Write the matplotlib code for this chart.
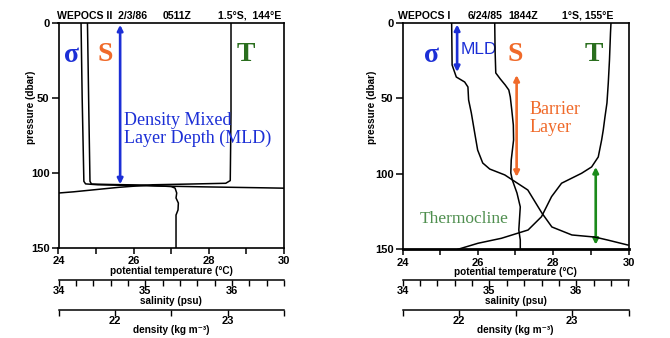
import matplotlib
matplotlib.use('Agg')
import matplotlib.pyplot as plt
from matplotlib.ticker import MultipleLocator, FixedLocator

plt.rcParams['font.family'] = ['Liberation Sans', 'DejaVu Sans']

# ---------------- data ----------------
# Left panel: WEPOCS II 2/3/86 0511Z, 1.5S 144E
left_T_temp = [28.59, 28.59, 28.57, 28.45, 27.5, 26.5, 25.6, 25.0, 24.4, 23.9]
left_T_pres = [0, 60, 105, 106.8, 107.3, 107.8, 109.5, 111.0, 112.5, 113.5]
left_S_sal = [34.334, 34.35, 34.363, 34.38, 34.6, 35.0, 35.3, 35.344, 35.363,
              35.355, 35.382, 35.378, 35.355, 35.355]
left_S_pres = [0, 60, 105.5, 107.3, 107.6, 108.0, 109.0, 110.0, 113.3,
               116.6, 120, 124.6, 128, 150]
left_D_den = [21.70, 21.71, 21.725, 21.74, 21.85, 22.3, 22.8, 23.3, 23.6]
left_D_pres = [0, 50, 105.5, 107.2, 107.8, 108.5, 109.2, 109.8, 110.2]
left_mld = 107.5

# Right panel: WEPOCS I 6/24/85 1844Z, 1S 155E
right_T_temp = [29.535, 29.522, 29.495, 29.463, 29.428, 29.375, 29.33, 29.287,
                29.197, 29.021, 28.755, 28.223, 27.957, 27.69, 27.334, 26.626,
                26.004, 25.472]
right_T_pres = [0, 6.6, 24.5, 39.8, 53.0, 62.3, 70.9, 77.5, 88.8, 95.4, 99.6,
                106.2, 115.1, 128.4, 137.2, 142.7, 146.0, 150.0]
right_S_sal = [35.061, 35.065, 35.073, 35.125, 35.182, 35.223, 35.240, 35.257,
               35.275, 35.278, 35.251, 35.246, 35.263, 35.317, 35.355, 35.338,
               35.355, 35.355]
right_S_pres = [0, 17.9, 33.1, 37.1, 41.1, 44.4, 49.0, 57.6, 67.6, 77.5, 90.8,
                99.4, 104.0, 112.7, 121.9, 137.2, 143.8, 150.0]
right_D_den = [21.935, 21.939, 21.976, 22.05, 22.079, 22.085, 22.109, 22.139,
               22.165, 22.21, 22.272, 22.405, 22.609, 22.733, 22.822, 22.999,
               23.203, 23.318, 23.496]
right_D_pres = [0, 27.8, 35.8, 39.1, 42.4, 51.0, 59.6, 72.9, 84.2, 92.8, 96.8,
                100.7, 110.7, 125.9, 135.2, 140.5, 141.9, 143.9, 147.2]
right_mld = 32.5
right_barrier = (34.5, 102.0)
right_thermo = (95.4, 147.0)

temp_lim = (24, 30)
sal_lim = (34, 36.6)
den_lim = (21.5, 23.5)
pres_lim = (150, 0)

BLUE = '#1c2fd6'
ORANGE = '#f06a2a'
GREEN_T = '#2a6e1e'
GREEN_ARR = '#1a8a1a'
GREEN_TXT = '#4f8f4f'

W, H = 670, 338
fig = plt.figure(figsize=(W / 100, H / 100), dpi=100)


def px_rect(x0, y_top, x1, y_bot):
    return [x0 / W, 1 - y_bot / H, (x1 - x0) / W, (y_bot - y_top) / H]


def panel(rect, sal_off, den_off, T, S, D, ylab_xy, bottom_lw=1.2):
    ax = fig.add_axes(rect)
    ax.set_xlim(*temp_lim)
    ax.set_ylim(*pres_lim)
    for sp in ax.spines.values():
        sp.set_linewidth(1.2)
    ax.spines['bottom'].set_linewidth(bottom_lw)
    ax.xaxis.set_major_locator(MultipleLocator(2))
    ax.xaxis.set_minor_locator(MultipleLocator(1))
    ax.yaxis.set_major_locator(FixedLocator([0, 50, 100, 150]))
    ax.tick_params(axis='both', which='both', direction='out', length=4.5,
                   width=1.1, labelsize=8, pad=1.5)
    ax.tick_params(axis='y', length=5)
    for lab in ax.get_xticklabels() + ax.get_yticklabels():
        lab.set_fontweight('bold')
    ax.set_xlabel('potential temperature (°C)', fontsize=7.2,
                  fontweight='bold', labelpad=-0.5)
    ax.set_ylabel('pressure (dbar)', fontsize=7.2, fontweight='bold')
    ax.yaxis.set_label_coords(*ylab_xy)
    ax.plot(T[0], T[1], color='black', lw=1.1)

    axs = ax.twiny()
    axs.set_xlim(*sal_lim)
    axs.set_ylim(*pres_lim)
    axs.xaxis.set_ticks_position('bottom')
    axs.xaxis.set_label_position('bottom')
    axs.spines['bottom'].set_position(('outward', sal_off))
    for k in ('top', 'left', 'right'):
        axs.spines[k].set_visible(False)
    axs.spines['bottom'].set_linewidth(1.1)
    axs.xaxis.set_major_locator(FixedLocator([34, 35, 36]))
    axs.xaxis.set_minor_locator(MultipleLocator(0.2))
    axs.tick_params(axis='x', which='both', direction='out', length=4,
                    width=1.0, labelsize=8, pad=0.5)
    for lab in axs.get_xticklabels():
        lab.set_fontweight('bold')
    axs.set_xlabel('salinity (psu)', fontsize=7.2, fontweight='bold',
                   labelpad=-0.3)
    axs.plot(S[0], S[1], color='black', lw=1.1, clip_on=True)

    axd = ax.twiny()
    axd.set_xlim(*den_lim)
    axd.set_ylim(*pres_lim)
    axd.xaxis.set_ticks_position('bottom')
    axd.xaxis.set_label_position('bottom')
    axd.spines['bottom'].set_position(('outward', den_off))
    for k in ('top', 'left', 'right'):
        axd.spines[k].set_visible(False)
    axd.spines['bottom'].set_linewidth(1.1)
    axd.xaxis.set_major_locator(FixedLocator([22, 23]))
    axd.xaxis.set_minor_locator(FixedLocator([21.5, 22.5, 23.5]))
    axd.tick_params(axis='x', which='both', direction='out', length=4,
                    width=1.0, labelsize=8, pad=0.5)
    for lab in axd.get_xticklabels():
        lab.set_fontweight('bold')
    axd.set_xlabel('density (kg m⁻³)', fontsize=7.2, fontweight='bold',
                   labelpad=-0.8)
    axd.plot(D[0], D[1], color='black', lw=1.1, clip_on=True)
    return ax


def darrow(ax, x, p0, p1, color):
    ax.annotate('', xy=(x, p1), xytext=(x, p0),
                arrowprops=dict(arrowstyle='<|-|>', color=color, lw=1.9,
                                mutation_scale=8, shrinkA=0, shrinkB=0))


serif = ['Liberation Serif', 'DejaVu Serif']

# ---------------- left panel ----------------
axL = panel(px_rect(58.5, 23.3, 284, 248), 23.0, 44.6,
            (left_T_temp, left_T_pres), (left_S_sal, left_S_pres),
            (left_D_den, left_D_pres), (-0.10, 0.627))
darrow(axL, 25.64, 1, left_mld, BLUE)
axL.text(0.058, 0.857, 'σ', transform=axL.transAxes, color=BLUE,
         fontsize=20, fontweight='bold', family=serif, ha='center', va='center')
axL.text(0.208, 0.863, 'S', transform=axL.transAxes, color=ORANGE,
         fontsize=20, fontweight='bold', family=serif, ha='center', va='center')
axL.text(0.829, 0.863, 'T', transform=axL.transAxes, color=GREEN_T,
         fontsize=20, fontweight='bold', family=serif, ha='center', va='center')
axL.text(0.29, 0.605, 'Density Mixed\nLayer Depth (MLD)', transform=axL.transAxes,
         color=BLUE, fontsize=13, family=serif, ha='left', va='top',
         linespacing=1.05)

# ---------------- right panel ----------------
axR = panel(px_rect(402.5, 23, 628.5, 249.3), 22.1, 43.7,
            (right_T_temp, right_T_pres), (right_S_sal, right_S_pres),
            (right_D_den, right_D_pres), (-0.113, 0.628), bottom_lw=2.0)
darrow(axR, 25.45, 1, right_mld, BLUE)
darrow(axR, 27.03, right_barrier[0], right_barrier[1], ORANGE)
darrow(axR, 29.13, right_thermo[0], right_thermo[1], GREEN_ARR)
axR.text(0.128, 0.856, 'σ', transform=axR.transAxes, color=BLUE,
         fontsize=20, fontweight='bold', family=serif, ha='center', va='center')
axR.text(0.259, 0.881, 'MLD', transform=axR.transAxes, color=BLUE,
         fontsize=12.5, ha='left', va='center')
axR.text(0.498, 0.863, 'S', transform=axR.transAxes, color=ORANGE,
         fontsize=20, fontweight='bold', family=serif, ha='center', va='center')
axR.text(0.845, 0.863, 'T', transform=axR.transAxes, color=GREEN_T,
         fontsize=20, fontweight='bold', family=serif, ha='center', va='center')
axR.text(0.564, 0.655, 'Barrier\nLayer', transform=axR.transAxes,
         color=ORANGE, fontsize=13, family=serif, ha='left', va='top',
         linespacing=1.05)
axR.text(0.077, 0.136, 'Thermocline', transform=axR.transAxes,
         color=GREEN_TXT, fontsize=12.5, family=serif, ha='left', va='center')

# ---------------- headers ----------------
yb = 1 - 19 / H
hdr = dict(fontsize=7.6, fontweight='bold', va='baseline', ha='left')
fig.text(57 / W, yb, 'WEPOCS II  2/3/86', **hdr)
fig.text(163 / W, yb, '0511Z', **hdr)
fig.text(218 / W, yb, '1.5°S,  144°E', **hdr)
fig.text(398 / W, yb, 'WEPOCS I', **hdr)
fig.text(468 / W, yb, '6/24/85', **hdr)
fig.text(508 / W, yb, '1844Z', **hdr)
fig.text(562 / W, yb, '1°S, 155°E', **hdr)

fig.savefig('out.png', dpi=100)
